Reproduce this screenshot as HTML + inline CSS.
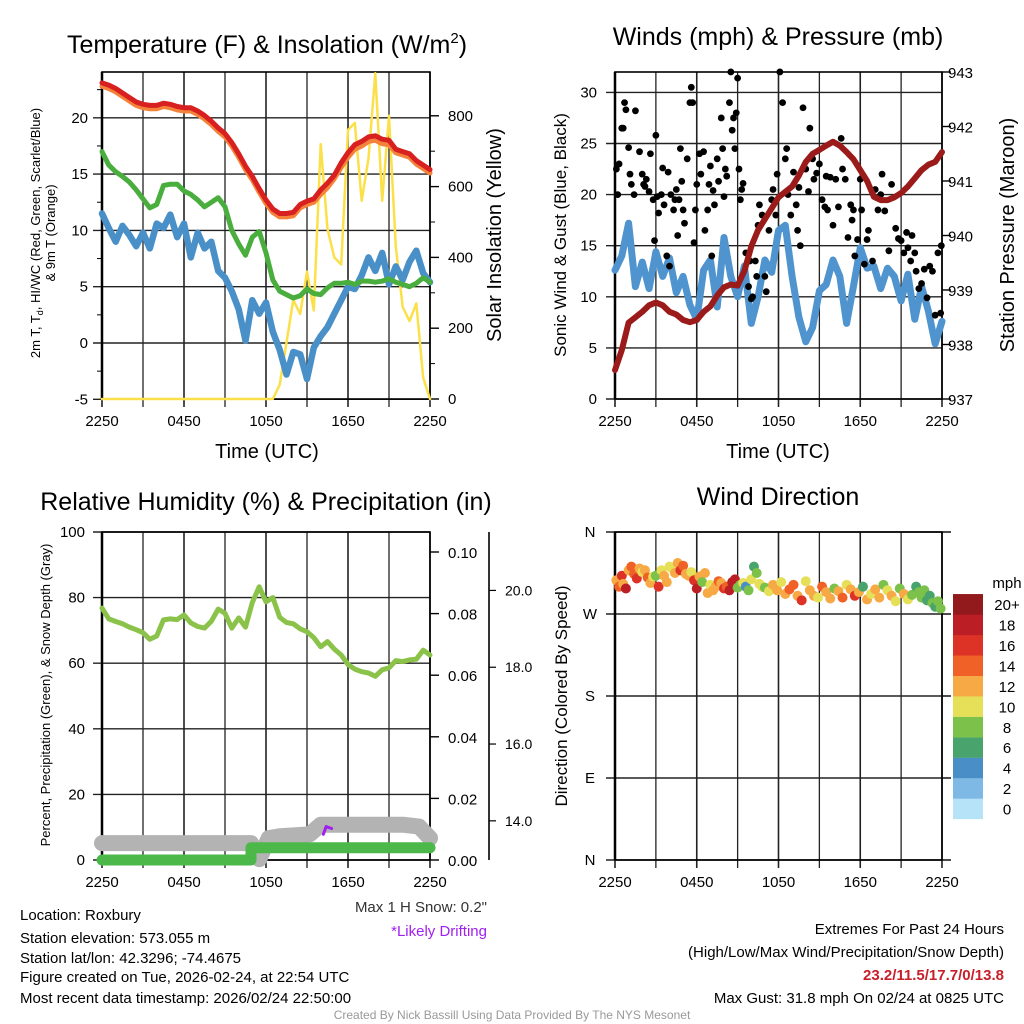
<!DOCTYPE html>
<html><head><meta charset="utf-8"><style>
html,body{margin:0;padding:0;background:#fff;}
svg{display:block;font-family:"Liberation Sans",sans-serif;}
</style></head><body>
<svg id="chart" xmlns="http://www.w3.org/2000/svg" width="1024" height="1024" viewBox="0 0 1024 1024">
<rect width="1024" height="1024" fill="#fff"/>
<g id="p1"></g>
<g id="p2"></g>
<g id="p3"></g>
<g id="p4"></g>
<text x="267" y="53" font-size="25" text-anchor="middle">Temperature (F) &amp; Insolation (W/m<tspan font-size="15" dy="-10">2</tspan><tspan dy="10">)</tspan></text>
<text x="778" y="45" font-size="25" text-anchor="middle">Winds (mph) &amp; Pressure (mb)</text>
<text x="266" y="510" font-size="25" text-anchor="middle">Relative Humidity (%) &amp; Precipitation (in)</text>
<text x="778" y="505" font-size="25" text-anchor="middle">Wind Direction</text>
<text transform="translate(40,233) rotate(-90)" font-size="13" text-anchor="middle">2m T, T<tspan font-size="9" dy="3">d</tspan><tspan dy="-3">, HI/WC (Red, Green, Scarlet/Blue)</tspan></text>
<text transform="translate(55,233) rotate(-90)" font-size="13" text-anchor="middle">&amp; 9m T (Orange)</text>
<text transform="translate(501,235) rotate(-90)" font-size="20" text-anchor="middle">Solar Insolation (Yellow)</text>
<text transform="translate(566,235) rotate(-90)" font-size="17" text-anchor="middle">Sonic Wind &amp; Gust (Blue, Black)</text>
<text transform="translate(1014,235) rotate(-90)" font-size="20" text-anchor="middle">Station Pressure (Maroon)</text>
<text transform="translate(50,695) rotate(-90)" font-size="13" text-anchor="middle">Percent, Precipitation (Green), &amp; Snow Depth (Gray)</text>
<text transform="translate(567,696) rotate(-90)" font-size="17" text-anchor="middle">Direction (Colored By Speed)</text>
<text x="267" y="458" font-size="20" text-anchor="middle">Time (UTC)</text>
<text x="778" y="458" font-size="20" text-anchor="middle">Time (UTC)</text>
<text x="1007" y="588" font-size="15" text-anchor="middle">mph</text>
<text x="487" y="912" font-size="15" text-anchor="end" fill="#333">Max 1 H Snow: 0.2"</text>
<text x="487" y="936" font-size="15" text-anchor="end" fill="#a020f0">*Likely Drifting</text>
<g font-size="15">
<text x="20" y="920">Location: Roxbury</text>
<text x="20" y="943">Station elevation: 573.055 m</text>
<text x="20" y="963">Station lat/lon: 42.3296; -74.4675</text>
<text x="20" y="982">Figure created on Tue, 2026-02-24, at 22:54 UTC</text>
<text x="20" y="1003">Most recent data timestamp: 2026/02/24 22:50:00</text>
</g>
<g font-size="15" text-anchor="end">
<text x="1004" y="934">Extremes For Past 24 Hours</text>
<text x="1004" y="957">(High/Low/Max Wind/Precipitation/Snow Depth)</text>
<text x="1004" y="980" fill="#c8202a" font-weight="bold">23.2/11.5/17.7/0/13.8</text>
<text x="1004" y="1003">Max Gust: 31.8 mph On 02/24 at 0825 UTC</text>
</g>
<text x="512" y="1019" font-size="12" text-anchor="middle" fill="#999">Created By Nick Bassill Using Data Provided By The NYS Mesonet</text>
</svg>
<script>
const xLabels=["2250","0450","1050","1650","2250"];
const tempRed=[23.1,22.9,22.6,22.2,21.8,21.4,21.2,21.1,21.1,21.3,21.2,21.0,20.9,20.9,20.6,20.2,19.7,19.1,18.6,17.8,16.8,15.7,14.8,13.7,12.7,11.9,11.5,11.5,11.6,12.3,12.6,12.8,13.6,14.2,14.9,16.0,16.9,17.6,17.9,18.3,18.4,18.1,18.0,17.2,17.0,16.8,16.2,15.8,15.4];
const temp9m=[22.8,22.6,22.3,21.9,21.5,21.1,20.9,20.8,20.8,21.0,20.9,20.7,20.6,20.6,20.3,19.9,19.4,18.8,18.3,17.5,16.5,15.4,14.5,13.4,12.4,11.6,11.2,11.2,11.3,12.0,12.3,12.5,13.2,13.8,14.6,15.6,16.5,17.2,17.5,17.9,18.0,17.7,17.6,16.9,16.7,16.5,15.9,15.5,15.1];
const dewGreen=[17.0,15.8,15.2,14.8,14.3,13.6,12.8,12.0,12.3,14.0,14.1,14.1,13.5,13.2,12.7,12.1,12.5,12.9,12.1,10.0,8.8,7.8,9.4,9.9,8.0,5.6,4.6,4.3,4.0,4.2,4.8,4.4,4.3,4.9,5.3,5.3,5.4,5.2,5.5,5.5,5.4,5.5,5.7,5.4,5.2,5.0,5.3,5.8,5.4];
const windChill=[11.5,10.2,9.0,10.4,9.6,8.6,9.8,8.4,10.6,10.2,11.4,9.4,10.6,7.6,9.8,8.4,9.0,6.4,5.8,4.6,3.0,0.2,3.8,2.6,3.6,1.0,-0.6,-2.8,-0.8,-1.0,-3.2,-0.4,0.6,1.4,2.6,3.8,5.0,4.8,6.0,7.6,6.4,8.0,5.2,6.8,5.6,7.2,8.2,6.2,5.4];
const insolation=[0,0,0,0,0,0,0,0,0,0,0,0,0,0,0,0,0,0,0,0,0,0,0,0,0,0,40,160,280,240,360,250,720,480,400,380,760,780,560,680,920,560,800,430,260,220,270,60,0];
const tempTicks=[-5,0,5,10,15,20];
const solarTicks=[0,200,400,600,800];
const sonicWind=[12.6,14.0,17.2,11.0,13.4,10.8,14.4,12.0,13.8,10.4,12.0,9.2,7.8,12.6,13.6,9.0,15.8,12.0,10.0,13.0,7.4,10.0,13.6,12.4,16.5,17.0,12.0,8.0,5.6,7.0,10.6,11.2,13.6,12.0,7.4,11.0,14.8,12.8,13.0,10.8,12.8,12.0,9.6,12.2,7.8,11.0,8.6,5.4,7.6];
const pressure=[937.53,937.9,938.4,938.5,938.6,938.72,938.77,938.72,938.6,938.55,938.45,938.41,938.45,938.6,938.7,938.9,939.05,939.1,939.08,939.35,939.8,940.1,940.3,940.5,940.7,940.8,940.9,941.1,941.35,941.5,941.57,941.65,941.72,941.65,941.53,941.4,941.2,941.0,940.71,940.65,940.65,940.7,940.78,940.9,941.05,941.2,941.3,941.35,941.53];
const gustHours=[0.1,0.2,0.3,0.5,0.6,0.7,0.8,1.0,1.1,1.2,1.4,1.5,1.8,2.0,2.1,2.2,2.3,2.5,2.6,2.8,2.9,3.0,3.1,3.2,3.4,3.5,3.6,3.8,3.9,4.0,4.1,4.3,4.4,4.5,4.6,4.7,4.8,4.9,5.0,5.1,5.3,5.5,5.6,5.7,5.8,5.9,6.0,6.2,6.3,6.5,6.6,6.8,6.9,7.0,7.1,7.2,7.3,7.5,7.6,7.8,7.9,8.0,8.1,8.2,8.4,8.5,8.6,8.7,8.8,8.9,9.0,9.1,9.2,9.3,9.4,9.6,9.8,9.9,10.0,10.1,10.3,10.4,10.5,10.6,10.8,11.0,11.1,11.3,11.5,11.6,11.8,11.9,12.1,12.3,12.5,12.6,12.7,12.9,13.1,13.3,13.4,13.5,13.6,13.8,14.0,14.2,14.3,14.5,14.6,14.8,15.0,15.2,15.4,15.5,15.6,15.8,16.0,16.2,16.4,16.6,16.7,16.9,17.1,17.3,17.4,17.5,17.6,17.8,18.0,18.1,18.3,18.5,18.6,18.9,19.1,19.3,19.5,19.6,19.8,20.1,20.3,20.6,20.8,21.0,21.2,21.4,21.5,21.7,21.8,22.0,22.1,22.3,22.5,22.7,22.9,23.1,23.3,23.5,23.7,23.9,23.95];
const gustValues=[22.5,20,23,26.5,26.5,29,28.3,24.6,22,21,20,28.2,24.2,22,21,20.8,21.5,20.3,24,19.5,15.5,25.8,19.8,18.2,20,22.6,19,14,22.2,13,20,18.5,19.5,20.5,16,19.5,24.5,21.3,18.5,17.2,23.5,29,30.5,29,15.3,18.5,21,24,22,24.2,16.5,18.5,21,22.8,14,20.4,19,23.5,21.3,27.5,24.5,19.8,22.5,21.8,29,32,26.3,27.5,24.5,28,31.4,22.5,19.5,20.5,21.1,14.3,11,13.5,9.8,10,13.5,12,17,19,18,12,10.5,16.5,19.5,20.5,18,22,32,29,23.5,24.5,20,18,22.2,19,16.5,20.7,15,28.5,22.5,20.3,26.5,23.5,21.5,22.1,23,19.5,18.8,21.8,18.5,21.7,17,21.5,18.8,25.5,22.5,21.5,15.8,19,17.5,18.5,14,15.6,21.5,18.5,13.2,15.6,16.5,13.5,20.5,18.5,20,22,18.4,14.5,21,16.7,15.7,15.5,14.3,16.3,14.8,13.5,16,14.3,12.5,10.8,11.3,12.7,9.9,13,12.5,8.2,14.3,8.4,15];
const windTicks=[0,5,10,15,20,25,30];
const pressTicks=[937,938,939,940,941,942,943];
const humidity=[76.8,73.5,72.7,72.0,71.0,70.2,69.3,67.3,68.3,73.2,73.5,73.3,74.7,72.3,71.2,70.7,72.8,76.5,75.2,70.7,73.8,71.0,78.5,83.3,78.7,80.0,74.0,72.4,72.0,70.5,69.6,67.8,65.0,66.6,64.3,62.5,59.6,58.2,57.4,57.0,56.0,58.0,58.6,60.8,60.5,61.0,61.2,64.0,62.5];
const precipHours=[0,10.9,10.9,24];
const precipValues=[0,0,0.004,0.004];
const snowHours=[0,5,10.9,11.5,12.2,13,15.2,16,20,22,23.2,24];
const snowValues=[13.42,13.42,13.42,13.0,13.55,13.6,13.65,13.9,13.9,13.9,13.85,13.55];
const driftHours=[16.2,16.4,16.8];
const driftValues=[13.65,13.85,13.8];
const rhTicks=[0,20,40,60,80,100];
const precipTicks=["0.00","0.02","0.04","0.06","0.08","0.10"];
const snowTicks=["14.0","16.0","18.0","20.0"];
const dirHours=[0.1,0.3,0.5,0.6,0.8,1.0,1.2,1.4,1.6,1.8,2.0,2.2,2.4,2.6,2.8,3.0,3.2,3.4,3.6,3.8,4.0,4.2,4.4,4.6,4.8,5.0,5.2,5.4,5.6,5.8,6.0,6.2,6.4,6.6,6.8,7.0,7.2,7.4,7.6,7.8,8.0,8.2,8.4,8.6,8.8,9.0,9.2,9.4,9.6,9.8,10.0,10.2,10.4,10.6,10.8,11.0,11.3,11.6,11.9,12.2,12.5,12.8,13.1,13.4,13.7,14.0,14.3,14.6,14.9,15.2,15.5,15.8,16.1,16.4,16.7,17.0,17.3,17.6,17.9,18.2,18.5,18.8,19.1,19.4,19.7,20.0,20.3,20.6,20.9,21.2,21.5,21.8,22.1,22.3,22.5,22.7,22.9,23.1,23.3,23.5,23.7,23.9];
const dirDegrees=[307,300,312,303,298,318,322,314,309,320,316,318,310,304,311,312,300,318,312,305,322,320,315,326,318,323,314,312,316,307,298,311,305,315,293,302,296,300,306,304,298,300,296,305,308,299,302,304,300,296,308,322,315,303,300,299,295,302,296,305,292,297,302,290,285,306,296,290,288,300,294,287,298,295,288,302,297,290,294,300,286,292,297,288,302,296,290,284,298,292,286,291,300,294,288,296,285,290,282,278,284,276];
const dirSpeeds=[12,13,16,12,17,12,14,13,15,12,10,11,13,12,10,8,16,10,11,12,10,9,11,12,15,14,12,11,10,15,17,12,8,12,11,10,11,12,14,12,16,14,18,17,18,8,7,9,4,8,10,5,8,10,9,8,10,12,11,10,12,13,14,12,15,10,12,12,9,14,11,12,8,12,13,10,11,15,12,6,12,9,12,11,8,10,12,9,7,11,10,8,6,7,8,7,6,6,7,6,8,7];
const dirLabels=["N","W","S","E","N"];
const cbColors=["#b6e3f8","#7db9e4","#4a8ec7","#48a46c","#7cc14a","#e6df58","#f6a944","#f06128","#dc3326","#bb1e25","#921a1c"];
const cbLabels=["0","2","4","6","8","10","12","14","16","18","20+"];

const NS="http://www.w3.org/2000/svg";
function mk(parent,tag,attrs){const e=document.createElementNS(NS,tag);for(const k in attrs)e.setAttribute(k,attrs[k]);parent.appendChild(e);return e;}
function txt(parent,x,y,s,size,anchor,name){const t=mk(parent,"text",{x:x,y:y,"font-size":size,"text-anchor":anchor});t.textContent=s;


return t;}
function frame(g,x0,x1,y0,y1,hy){
  for(let k=0;k<=8;k++){const x=x0+(x1-x0)*k/8;const l=mk(g,"line",{x1:x,x2:x,y1:y0,y2:y1+8,stroke:"#222","stroke-width":k%2?1.3:1.6});
    
    }
  hy.forEach(y=>{const l=mk(g,"line",{x1:x0-9,x2:x1,y1:y,y2:y,stroke:"#222","stroke-width":1.4});
    
    });
  const r=mk(g,"rect",{x:x0,y:y0,width:x1-x0,height:y1-y0,fill:"none",stroke:"#000","stroke-width":1.6});
  
  
  const la=mk(g,"line",{x1:x0,x2:x0,y1:y0,y2:y1,stroke:"#000","stroke-width":2.5});
  
  
  xLabels.forEach((s,k)=>txt(g,x0+(x1-x0)*k/4,y1+27,s,15,"middle","x-tick-label"));
}
function path(g,xs,ys,color,w,name){
  let d="";for(let i=0;i<xs.length;i++)d+=(i?"L":"M")+xs[i].toFixed(1)+","+ys[i].toFixed(1);
  const p=mk(g,"path",{d:d,fill:"none",stroke:color,"stroke-width":w,"stroke-linejoin":"round","stroke-linecap":"round"});
  
  
  return p;
}
const half=a=>a.map((_,i)=>i*0.5);

(function(){
  const g=document.getElementById("p1");const x0=102,x1=430,y0=72,y1=399;
  const X=h=>x0+h/24*(x1-x0);const Y=v=>343-v*11.26;const S=v=>399-v*0.354;
  frame(g,x0,x1,y0,y1,tempTicks.map(Y));
  tempTicks.forEach(v=>txt(g,88,Y(v)+5,String(v),15,"end","temp-tick-label"));
  for(let v=-2.5;v<24;v+=5){const l=mk(g,"line",{x1:x0-5,x2:x0,y1:Y(v),y2:Y(v),stroke:"#000","stroke-width":1});}
  solarTicks.forEach(v=>{txt(g,448,S(v)+5,String(v),15,"start","solar-tick-label");const l=mk(g,"line",{x1:x1,x2:x1+9,y1:S(v),y2:S(v),stroke:"#000","stroke-width":1.4});});
  for(let v=100;v<900;v+=200){const l=mk(g,"line",{x1:x1,x2:x1+5,y1:S(v),y2:S(v),stroke:"#000","stroke-width":1});}
  const hs=half(tempRed).map(X);
  path(g,hs,insolation.map(S),"#fbe04a",2.5,"insolation-line");
  path(g,hs,windChill.map(Y),"#4a90c8",6.5,"windchill-line");
  path(g,hs,dewGreen.map(Y),"#4aae3f",5,"dewpoint-line");
  path(g,hs,temp9m.map(Y),"#f5823a",5,"temp-9m-line");
  path(g,hs,tempRed.map(Y),"#d7201f",5,"temp-2m-line");
})();

(function(){
  const g=document.getElementById("p2");const x0=615,x1=942,y0=72,y1=399;
  const X=h=>x0+h/24*(x1-x0);const W=v=>399-v*10.22;const P=p=>399-(p-937)*54.5;
  frame(g,x0,x1,y0,y1,windTicks.map(W));
  windTicks.forEach(v=>txt(g,597,W(v)+5,String(v),15,"end","wind-tick-label"));
  pressTicks.forEach(v=>{txt(g,948,P(v)+6,String(v),15,"start","pressure-tick-label");const l=mk(g,"line",{x1:x1,x2:x1+9,y1:P(v),y2:P(v),stroke:"#000","stroke-width":1.4});});
  const hs=half(sonicWind).map(X);
  path(g,hs,sonicWind.map(W),"#4f94ce",7,"sonic-wind-line");
  gustHours.forEach((h,i)=>{const c=mk(g,"circle",{cx:X(h),cy:W(gustValues[i]),r:3.4,fill:"#000"});
    
    });
  path(g,hs,pressure.map(P),"#9b1a1a",6,"pressure-line");
})();

(function(){
  const g=document.getElementById("p3");const x0=102,x1=430,y0=532,y1=860;
  const X=h=>x0+h/24*(x1-x0);const R=v=>860-v*3.28;const Pr=v=>860-v*3080;const Sn=s=>860-(s-12.98)*38.4;
  frame(g,x0,x1,y0,y1,rhTicks.map(R));
  rhTicks.forEach(v=>txt(g,85,R(v)+5,String(v),15,"end","rh-tick-label"));
  precipTicks.forEach(s=>{const v=parseFloat(s);txt(g,448,Pr(v)+6,s,15,"start","precip-tick-label");const l=mk(g,"line",{x1:x1,x2:x1+9,y1:Pr(v),y2:Pr(v),stroke:"#000","stroke-width":1.4});});
  const sa=mk(g,"line",{x1:489,x2:489,y1:y0,y2:y1,stroke:"#000","stroke-width":1.6});
  
  snowTicks.forEach(s=>{const v=parseFloat(s);txt(g,505,Sn(v)+5,s,14,"start","snow-tick-label");const l=mk(g,"line",{x1:489,x2:496,y1:Sn(v),y2:Sn(v),stroke:"#000","stroke-width":1.2});});
  path(g,half(humidity).map(X),humidity.map(R),"#8bc34a",5,"humidity-line");
  path(g,snowHours.map(X),snowValues.map(Sn),"#b3b3b3",16,"snow-depth-line");
  path(g,precipHours.map(X),precipValues.map(Pr),"#4cb84a",11,"precip-line");
  path(g,driftHours.map(X),driftValues.map(Sn),"#a020f0",3,"drifting-line");
})();

(function(){
  const g=document.getElementById("p4");const x0=615,x1=942,y0=532,y1=860;
  const X=h=>x0+h/24*(x1-x0);const D=d=>860-d*(328/360);
  frame(g,x0,x1,y0,y1,[0,90,180,270,360].map(D));
  [0,90,180,270,360].forEach(d=>{const l=mk(g,"line",{x1:x1,x2:x1+9,y1:D(d),y2:D(d),stroke:"#000","stroke-width":1.4});});
  dirLabels.forEach((s,k)=>txt(g,590,D(360-k*90)+5,s,15,"middle","direction-tick-label"));
  dirHours.forEach((h,i)=>{const idx=Math.max(0,Math.min(10,Math.round(dirSpeeds[i]/2)));
    const c=mk(g,"circle",{cx:X(h),cy:D(dirDegrees[i]),r:5,fill:cbColors[idx]});
    
    });
  const cb=mk(g,"g",{});
  
  
  cbColors.forEach((c,k)=>{const y=819-(k+1)*20.45;const r=mk(cb,"rect",{x:953,y:y,width:30,height:20.6,fill:c});
    
    
    txt(cb,1007,y+16,cbLabels[k],15,"middle","colorbar-label");});
})();
</script>
</body></html>
